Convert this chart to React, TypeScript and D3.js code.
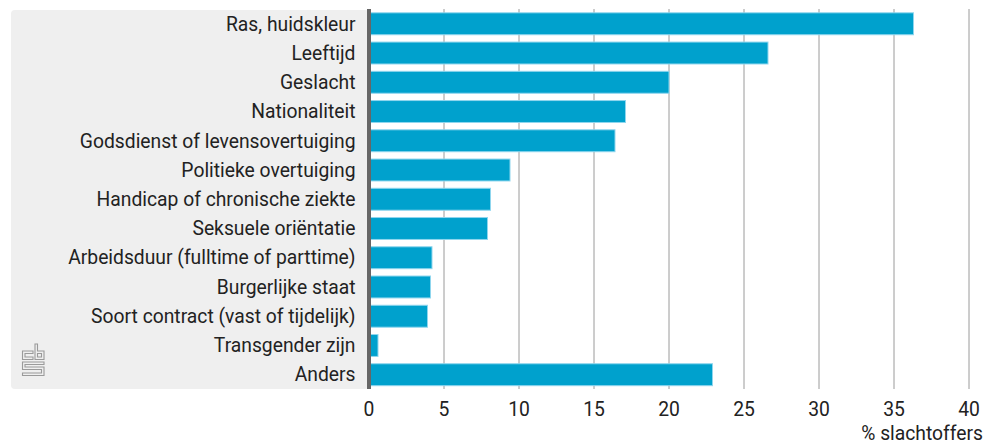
import React from 'react';
import * as d3 from 'd3';

const categories = [
  'Ras, huidskleur',
  'Leeftijd',
  'Geslacht',
  'Nationaliteit',
  'Godsdienst of levensovertuiging',
  'Politieke overtuiging',
  'Handicap of chronische ziekte',
  'Seksuele oriëntatie',
  'Arbeidsduur (fulltime of parttime)',
  'Burgerlijke staat',
  'Soort contract (vast of tijdelijk)',
  'Transgender zijn',
  'Anders'
];
const values = [36.3, 26.6, 20.0, 17.1, 16.4, 9.4, 8.1, 7.9, 4.2, 4.1, 3.9, 0.6, 22.9];
const xTicks = [0, 5, 10, 15, 20, 25, 30, 35, 40];
const xTitle = '% slachtoffers';

const width = 996;
const height = 445;
const FONT = 'Roboto, sans-serif';
const FS = 19.3;

const App = () => {
  const x = d3.scaleLinear().domain([0, 40]).range([369, 969]);
  const y = d3.scaleBand<string>()
    .domain(categories)
    .range([5.5, 393])
    .paddingInner(0.25)
    .paddingOuter(0.25);
  const plotTop = 9;
  const plotBottom = 389;

  return (
    <svg width={width} height={height} style={{ position: 'absolute', left: 0, top: 0, fontFamily: FONT }}>
      {/* grey label panel */}
      <rect x={11} y={10} width={358} height={379} rx={4} fill="#efefef" />

      {/* cbs logo, outlined */}
      <g transform="translate(22, 343.5)" fill="none" stroke="#9a9a9a" strokeWidth={1.1}>
        <path d="M0.5,7.5 H11 V10 H3 V13.5 H11 V16 H0.5 Z" />
        <path d="M13,0.5 H15.5 V7.5 H22 V16 H13 Z" />
        <path d="M15.5,10 H19.5 V13.5 H15.5 Z" />
        <path d="M0.5,18.5 H22 V21 H3 V23.5 H22 V32 H0.5 V29.5 H19.5 V26 H0.5 Z" />
      </g>

      {/* gridlines */}
      {xTicks.filter(t => t > 0).map(t => (
        <line key={t} x1={x(t)} x2={x(t)} y1={plotTop} y2={plotBottom} stroke="#9a9a9a" strokeWidth={1} />
      ))}

      {/* bars */}
      {categories.map((c, i) => (
        <rect
          key={c}
          x={x(0)}
          y={y(c)}
          width={x(values[i]) - x(0)}
          height={y.bandwidth()}
          fill="#00a1cd"
          stroke="#8fd6ee"
          strokeWidth={1}
        />
      ))}

      {/* axis line */}
      <line x1={x(0)} x2={x(0)} y1={plotTop} y2={plotBottom} stroke="#666" strokeWidth={4} />

      {/* category labels */}
      {categories.map(c => (
        <text
          key={c}
          x={355.5}
          y={(y(c) as number) + y.bandwidth() / 2}
          dy="0.35em"
          textAnchor="end"
          fontSize={FS}
          fill="#222"
        >
          {c}
        </text>
      ))}

      {/* x tick labels */}
      {xTicks.map(t => (
        <text key={t} x={x(t)} y={416} textAnchor="middle" fontSize={FS} fill="#222">
          {t}
        </text>
      ))}

      <text x={983} y={440} textAnchor="end" fontSize={FS} fill="#222">
        {xTitle}
      </text>
    </svg>
  );
};

export default App;
